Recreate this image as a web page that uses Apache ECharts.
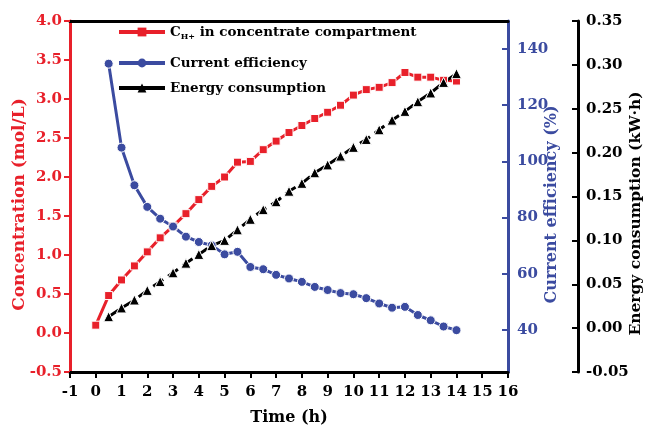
<!DOCTYPE html>
<html><head><meta charset="utf-8">
<script src="https://cdn.jsdelivr.net/npm/echarts@6/dist/echarts.min.js"></script>
<style>html,body{margin:0;padding:0;background:#fff}#c{width:646px;height:426px}</style>
</head><body><div id="c"></div>
<script>
// ---- data ----
const timeConc = [0,0.5,1,1.5,2,2.5,3,3.5,4,4.5,5,5.5,6,6.5,7,7.5,8,8.5,9,9.5,10,10.5,11,11.5,12,12.5,13,13.5,14];
const concentration = [0.10,0.48,0.68,0.86,1.04,1.22,1.37,1.53,1.71,1.88,2.00,2.19,2.20,2.35,2.46,2.57,2.66,2.75,2.83,2.92,3.05,3.12,3.15,3.21,3.34,3.28,3.28,3.24,3.23];
const timeEff = [0.5,1,1.5,2,2.5,3,3.5,4,4.5,5,5.5,6,6.5,7,7.5,8,8.5,9,9.5,10,10.5,11,11.5,12,12.5,13,13.5,14];
const efficiency = [134.8,104.9,91.5,83.8,79.6,76.8,73.2,71.3,70.1,66.9,67.8,62.4,61.6,59.6,58.3,57.1,55.3,54.2,53.1,52.7,51.3,49.4,47.9,48.2,45.3,43.4,41.2,39.9];
const timeEnergy = [0.5,1,1.5,2,2.5,3,3.5,4,4.5,5,5.5,6,6.5,7,7.5,8,8.5,9,9.5,10,10.5,11,11.5,12,12.5,13,13.5,14];
const energy = [0.013,0.023,0.032,0.043,0.053,0.063,0.074,0.084,0.094,0.100,0.112,0.124,0.135,0.144,0.156,0.165,0.177,0.186,0.196,0.206,0.215,0.226,0.237,0.247,0.258,0.268,0.280,0.290];
const effTicks = [40,60,80,100,120,140];
const seriesNames = ['Concentration','Current efficiency','Energy consumption'];

// ---- chart ----
const RED = '#e8202a', BLUE = '#3b4ba0', BLACK = '#000';
const FONT = '"DejaVu Serif", "Liberation Serif", serif';
const zip = (a, b) => a.map((x, i) => [x, b[i]]);
const chart = echarts.init(document.getElementById('c'), null, {renderer: 'canvas'});
const legendBase = {
  left: 117, orient: 'vertical', itemWidth: 46, itemHeight: 11, itemGap: 5,
  textStyle: {fontFamily: FONT, fontWeight: 'bold', fontSize: 13.5, color: BLACK},
  lineStyle: {width: 4, type: 'solid'},
  itemStyle: {borderWidth: 0},
  selectedMode: false, padding: 0
};
const tickFont = {fontFamily: FONT, fontWeight: 'bold', fontSize: 15};
const titleFont = {fontFamily: FONT, fontWeight: 'bold', fontSize: 16};
chart.setOption({
  animation: false,
  backgroundColor: '#fff',
  grid: {left: 70, right: 138, top: 21, bottom: 54, containLabel: false, outerBoundsMode: 'none'},
  legend: [
    Object.assign({}, legendBase, {top: 25, data: [seriesNames[0]],
      formatter: () => '{t|C}{s|H+}{t| in concentrate compartment}',
      textStyle: Object.assign({}, legendBase.textStyle, {rich: {
        t: {fontFamily: FONT, fontWeight: 'bold', fontSize: 13.5, color: BLACK},
        s: {fontFamily: FONT, fontWeight: 'bold', fontSize: 8, color: BLACK, padding: [9, 0, 0, 0]}
      }})}),
    Object.assign({}, legendBase, {top: 56, data: [seriesNames[1]]}),
    Object.assign({}, legendBase, {top: 81, data: [seriesNames[2]]})
  ],
  xAxis: [{
    type: 'value', min: -1, max: 16, interval: 1,
    name: 'Time (h)', nameLocation: 'middle', nameGap: 38, nameMoveOverlap: false,
    nameTextStyle: Object.assign({color: BLACK}, titleFont),
    axisLine: {show: true, onZero: false, lineStyle: {color: BLACK, width: 3}},
    axisTick: {show: true, length: 6, lineStyle: {color: BLACK, width: 2}},
    axisLabel: Object.assign({color: BLACK, margin: 13}, tickFont),
    splitLine: {show: false}
  }, {
    type: 'value', min: -1, max: 16, position: 'top',
    axisLine: {show: true, onZero: false, lineStyle: {color: BLACK, width: 3}},
    axisTick: {show: false}, axisLabel: {show: false}, splitLine: {show: false}
  }],
  yAxis: [{
    type: 'value', min: -0.5, max: 4.0, interval: 0.5, position: 'left',
    name: 'Concentration (mol/L)', nameLocation: 'middle', nameGap: 42, nameRotate: 90, nameMoveOverlap: false,
    nameTextStyle: Object.assign({color: RED}, titleFont, {fontSize: 17, padding: [0, 16, 0, 0]}),
    axisLine: {show: true, onZero: false, lineStyle: {color: RED, width: 3}},
    axisTick: {show: true, length: 6, lineStyle: {color: RED, width: 2}},
    axisLabel: Object.assign({color: RED, margin: 8, formatter: v => v.toFixed(1)}, tickFont),
    splitLine: {show: false}
  }, {
    type: 'value', min: 25, max: 150, position: 'right', offset: 0,
    name: 'Current efficiency (%)', nameLocation: 'middle', nameGap: 36, nameRotate: 90, nameMoveOverlap: false,
    nameTextStyle: Object.assign({color: BLUE}, titleFont, {padding: [0, 16, 0, 0]}),
    axisLine: {show: true, onZero: false, lineStyle: {color: BLUE, width: 3}},
    axisTick: {show: true, inside: true, length: 6, customValues: effTicks, lineStyle: {color: BLUE, width: 2}},
    axisLabel: Object.assign({color: BLUE, margin: 9, customValues: effTicks}, tickFont),
    splitLine: {show: false}
  }, {
    type: 'value', min: -0.05, max: 0.35, interval: 0.05, position: 'right', offset: 70,
    name: 'Energy consumption (kW·h)', nameLocation: 'middle', nameGap: 50, nameRotate: 90, nameMoveOverlap: false,
    nameTextStyle: Object.assign({color: BLACK}, titleFont, {fontSize: 15.5, padding: [0, 34, 0, 0]}),
    axisLine: {show: true, onZero: false, lineStyle: {color: BLACK, width: 3}},
    axisTick: {show: true, inside: true, length: 6, lineStyle: {color: BLACK, width: 2}},
    axisLabel: Object.assign({color: BLACK, margin: 8, formatter: v => v.toFixed(2)}, tickFont),
    splitLine: {show: false}
  }],
  series: [{
    name: seriesNames[0], type: 'line', xAxisIndex: 0, yAxisIndex: 0,
    data: zip(timeConc, concentration),
    symbol: 'rect', symbolSize: 8, showAllSymbol: true,
    lineStyle: {color: RED, width: 3}, itemStyle: {color: RED, borderColor: '#fff', borderWidth: 1}
  }, {
    name: seriesNames[1], type: 'line', xAxisIndex: 0, yAxisIndex: 1,
    data: zip(timeEff, efficiency),
    symbol: 'circle', symbolSize: 9, showAllSymbol: true,
    lineStyle: {color: BLUE, width: 3}, itemStyle: {color: BLUE, borderColor: '#fff', borderWidth: 1}
  }, {
    name: seriesNames[2], type: 'line', xAxisIndex: 0, yAxisIndex: 2,
    data: zip(timeEnergy, energy),
    symbol: 'triangle', symbolSize: 10, showAllSymbol: true,
    lineStyle: {color: BLACK, width: 3, type: 'dashed'}, itemStyle: {color: BLACK, borderColor: '#fff', borderWidth: 1}
  }]
});
</script></body></html>
